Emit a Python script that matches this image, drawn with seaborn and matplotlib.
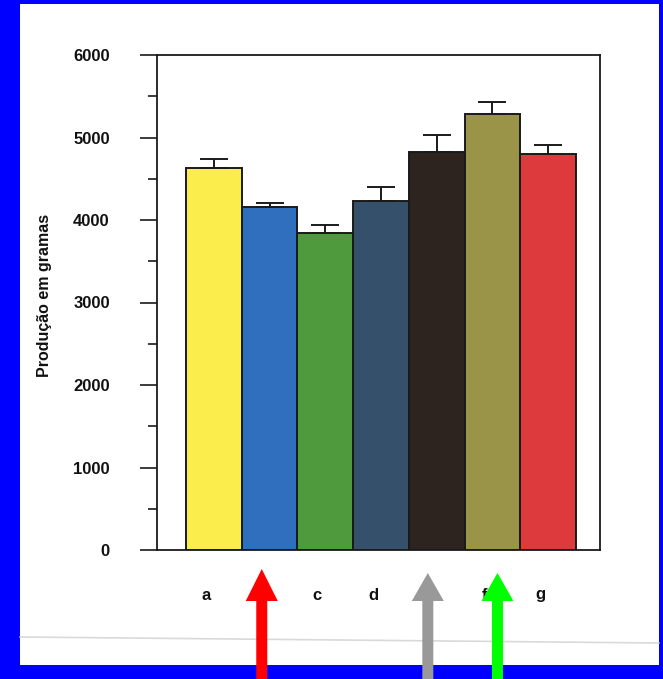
import numpy as np
import matplotlib
matplotlib.use("Agg")
import matplotlib.pyplot as plt
from matplotlib.patches import Rectangle, Polygon
from matplotlib.lines import Line2D
from matplotlib.ticker import MultipleLocator
from matplotlib.transforms import ScaledTranslation
import seaborn as sns

# dados
tratamentos = ["a", "b", "c", "d", "e", "f", "g"]
producao = [4630, 4160, 3840, 4230, 4820, 5290, 4800]
erro = [110, 50, 100, 170, 205, 145, 110]
cores = ["#fbee4c", "#2f6fbd", "#4f9a3c", "#34506a", "#2d2420", "#9a9448", "#dc3a3c"]

# setas por cima do eixo x (categoria + pequeno desvio)
setas_cat = ["b", "e", "f"]
setas_desvio = [-0.14, -0.16, 0.09]
setas_cor = ["#ff0000", "#999999", "#00ff00"]
setas_topo = [569, 573, 573]

sns.set_style("white")
plt.rcParams["font.family"] = ["Liberation Sans", "DejaVu Sans"]
plt.rcParams["font.weight"] = "bold"
plt.rcParams["text.color"] = "#111111"
plt.rcParams["axes.labelcolor"] = "#111111"
plt.rcParams["xtick.color"] = "#111111"
plt.rcParams["ytick.color"] = "#111111"

W, H = 663, 679
fig = plt.figure(figsize=(W / 100, H / 100), dpi=100, facecolor="#0000ff")

# folha branca dentro da moldura azul
fig.patches.append(Rectangle((20 / W, (H - 665) / H), (659 - 20) / W, (665 - 4) / H,
                             transform=fig.transFigure, facecolor="white",
                             edgecolor="none", zorder=-10))
fig.add_artist(Line2D([20 / W, 659 / W], [1 - 637 / H, 1 - 643 / H],
                      transform=fig.transFigure, color="#d9d9d9", lw=1.2, zorder=-5))

ax = fig.add_axes([157 / W, 129 / H, 443 / W, 495 / H])
ax.set_facecolor("white")
sns.barplot(x=tratamentos, y=producao, hue=tratamentos, palette=cores,
            width=1.0, edgecolor="#1a1a1a", linewidth=1.4, saturation=1,
            legend=False, ax=ax)
ax.errorbar(range(len(tratamentos)), producao,
            yerr=[np.zeros(len(erro)), erro], fmt="none", ecolor="#1a1a1a",
            elinewidth=1.4, capsize=10, capthick=1.4, zorder=1)

ax.set_xlim(-1.02, 6.93)
ax.set_ylim(0, 6000)
ax.yaxis.set_major_locator(MultipleLocator(1000))
ax.yaxis.set_minor_locator(MultipleLocator(500))
ax.tick_params(axis="y", which="major", direction="out", left=True,
               length=12, width=1.2, pad=22, labelsize=12, color="#1a1a1a")
ax.tick_params(axis="y", which="minor", direction="out", left=True,
               length=6.5, width=1.2, color="#1a1a1a")
ax.tick_params(axis="x", length=0, pad=27, labelsize=12)
for sp in ax.spines.values():
    sp.set_visible(True)
    sp.set_linewidth(1.3)
    sp.set_color("#1a1a1a")

# rotulos do eixo x ficam um pouco a esquerda das barras
desloc = ScaledTranslation(-8 / 100, 0, fig.dpi_scale_trans)
for lbl in ax.get_xticklabels():
    lbl.set_transform(lbl.get_transform() + desloc)

ax.set_xlabel("")
ax.set_ylabel("Produção em gramas", fontsize=11.5, fontweight="bold")
ax.yaxis.set_label_coords(-0.238, 0.515)

# camada de setas em pixels
ov = fig.add_axes([0, 0, 1, 1], facecolor="none", zorder=5)
ov.set_xlim(0, W)
ov.set_ylim(H, 0)
ov.axis("off")
fig.canvas.draw()
for cat, dx, cor, topo in zip(setas_cat, setas_desvio, setas_cor, setas_topo):
    xp = ax.transData.transform((tratamentos.index(cat) + dx, 0))[0]
    pts = [(xp, topo), (xp - 16, 601), (xp - 5.5, 601), (xp - 5.5, H + 2),
           (xp + 5.5, H + 2), (xp + 5.5, 601), (xp + 16, 601)]
    ov.add_patch(Polygon(pts, closed=True, facecolor=cor, edgecolor="none"))

fig.savefig("out.png", dpi=100, facecolor=fig.get_facecolor())
